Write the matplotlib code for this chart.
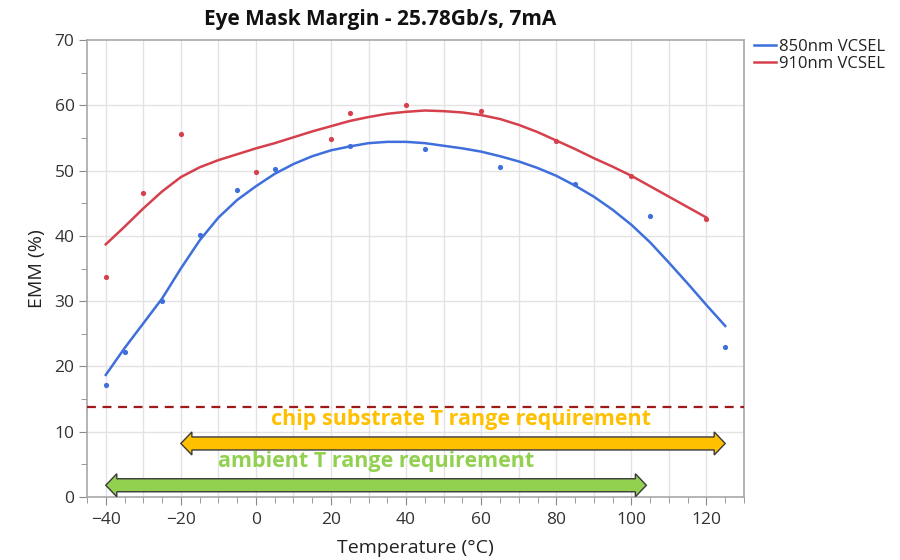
import matplotlib
matplotlib.use("Agg")
import matplotlib.pyplot as plt
from matplotlib.patches import Polygon
from matplotlib.ticker import MultipleLocator
import numpy as np

plt.rcParams['font.family'] = ['Open Sans', 'DejaVu Sans']

# ---- data ----
t_850 = [-40, -35, -25, -15, -5, 5, 25, 45, 65, 85, 105, 125]
emm_850 = [17.2, 22.2, 30.0, 40.2, 47.1, 50.2, 53.7, 53.3, 50.5, 47.9, 43.0, 22.9]
t_910 = [-40, -30, -20, 0, 20, 25, 40, 60, 80, 100, 120]
emm_910 = [33.7, 46.5, 55.6, 49.8, 54.8, 58.8, 60.0, 59.1, 54.5, 49.2, 42.6]

fit_t_850 = [-40, -35, -30, -25, -20, -15, -10, -5, 0, 5, 10, 15, 20, 25, 30, 35, 40,
             45, 50, 55, 60, 65, 70, 75, 80, 85, 90, 95, 100, 105, 110, 115, 120, 125]
fit_850 = [18.7, 22.8, 26.6, 30.4, 35.0, 39.3, 42.8, 45.5, 47.6, 49.5, 51.0, 52.2, 53.1,
           53.7, 54.2, 54.4, 54.4, 54.2, 53.8, 53.4, 52.9, 52.2, 51.4, 50.4, 49.2, 47.7,
           46.0, 44.0, 41.7, 39.0, 35.9, 32.7, 29.4, 26.2]
fit_t_910 = [-40, -35, -30, -25, -20, -15, -10, -5, 0, 5, 10, 15, 20, 25, 30, 35, 40,
             45, 50, 55, 60, 65, 70, 75, 80, 85, 90, 95, 100, 105, 110, 115, 120]
fit_910 = [38.7, 41.4, 44.2, 46.8, 49.0, 50.5, 51.6, 52.5, 53.4, 54.2, 55.1, 56.0, 56.8,
           57.6, 58.2, 58.7, 59.0, 59.2, 59.1, 58.9, 58.5, 57.9, 57.0, 55.9, 54.6, 53.3,
           51.9, 50.6, 49.2, 47.6, 46.0, 44.4, 42.8]

threshold = 13.8
chip_range = [-20, 125]
chip_y = 8.2
ambient_range = [-40, 104]
ambient_y = 1.8

labels = ["850nm VCSEL", "910nm VCSEL"]
blue = "#3E6FDB"
red = "#D5404C"

fig = plt.figure(figsize=(9, 5.6), dpi=100)
ax = fig.add_axes([87/900, 1 - 497/560, (744-87)/900, (497-40)/560])

ax.set_xlim(-45, 130)
ax.set_ylim(0, 70)

ax.plot(fit_t_850, fit_850, color=blue, lw=1.8, label=labels[0], zorder=4,
        solid_joinstyle="round")
ax.plot(fit_t_910, fit_910, color=red, lw=1.8, label=labels[1], zorder=4,
        solid_joinstyle="round")
ax.scatter(t_850, emm_850, s=14, color=blue, zorder=5, linewidths=0)
ax.scatter(t_910, emm_910, s=14, color=red, zorder=5, linewidths=0)

ax.axhline(threshold, color="#A01818", lw=1.6, ls=(0, (4, 3)), zorder=3)

# arrows (double-headed block arrows)
px_x = 3.75   # pixels per x unit
px_y = 6.52   # pixels per y unit
def darrow(x0, x1, y, fc):
    bh = 6.5 / px_y
    hh = 11.5 / px_y
    hl = 11.0 / px_x
    verts = [(x0, y), (x0 + hl, y + hh), (x0 + hl, y + bh), (x1 - hl, y + bh),
             (x1 - hl, y + hh), (x1, y), (x1 - hl, y - hh), (x1 - hl, y - bh),
             (x0 + hl, y - bh), (x0 + hl, y - hh)]
    ax.add_patch(Polygon(verts, closed=True, fc=fc, ec="#3a3a3a", lw=1.0, zorder=6))

darrow(chip_range[0], chip_range[1], chip_y, "#FFC000")
darrow(ambient_range[0], ambient_range[1], ambient_y, "#92D050")

ax.text(54.7, 11.9, "chip substrate T range requirement", color="#FFC000",
        fontsize=15.5, fontweight="bold", ha="center", va="center", zorder=7)
ax.text(32, 5.4, "ambient T range requirement", color="#92D050",
        fontsize=15.5, fontweight="bold", ha="center", va="center", zorder=7)

# axes styling
ax.xaxis.set_major_locator(MultipleLocator(20))
ax.xaxis.set_minor_locator(MultipleLocator(5))
ax.yaxis.set_major_locator(MultipleLocator(10))
ax.yaxis.set_minor_locator(MultipleLocator(5))
for v in np.arange(-40, 131, 10):
    ax.axvline(v, color="#e3e3e3", lw=1.0, zorder=0)
for v in np.arange(10, 70, 10):
    ax.axhline(v, color="#e3e3e3", lw=1.0, zorder=0)

ax.tick_params(axis="both", which="major", length=6, color="#8a8a8a", labelsize=12.5,
               labelcolor="#333333", direction="out", pad=3)
ax.tick_params(axis="x", which="major", pad=5)
ax.tick_params(axis="both", which="minor", length=4, color="#8a8a8a", direction="out")
for s in ax.spines.values():
    s.set_color("#a8a8a8")
    s.set_linewidth(1.2)

ax.set_xlabel("Temperature (°C)", fontsize=14, color="#222222", labelpad=8)
ax.set_ylabel("EMM (%)", fontsize=14, color="#222222", labelpad=6)

fig.text(380/900, 1 - 19/560, "Eye Mask Margin - 25.78Gb/s, 7mA", fontsize=15,
         fontweight="bold", ha="center", va="center", color="#111111")

leg = ax.legend(loc="upper left", bbox_to_anchor=(1.0, 1.025), frameon=False,
                fontsize=12, handlelength=1.3, handletextpad=0.2, labelspacing=0.1,
                borderaxespad=0.2)
for t in leg.get_texts():
    t.set_color("#222222")

fig.savefig("out.png", dpi=100)
